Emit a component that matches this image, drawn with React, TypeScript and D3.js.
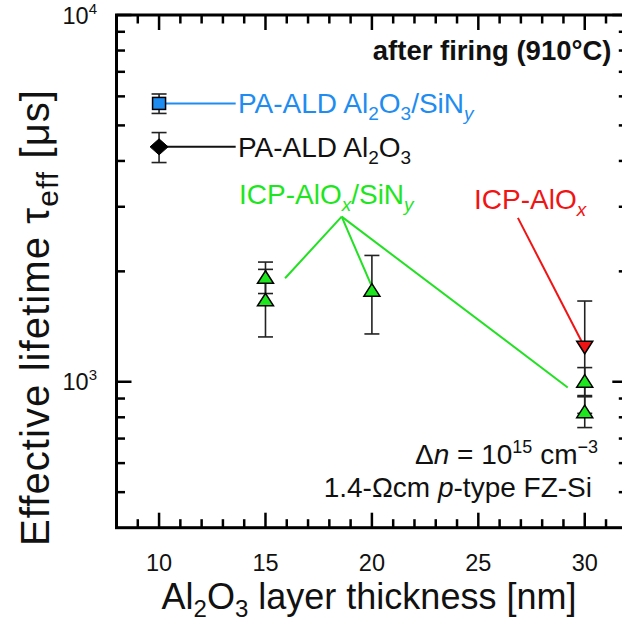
import React from 'react';
import * as d3 from 'd3';

// ---------- data ----------
const blueX = [10];
const blueY = [5740];
const blueErr = [350];

const blackX = [10];
const blackY = [4370];
const blackErr = [410];

const greenX = [15, 15, 20, 30, 30];
const greenY = [1930, 1675, 1780, 1005, 830];
const greenErr = [190, 350, 430, 88, 80];

const redX = [30];
const redY = [1240];
const redErr = [420];

const xMajorTicks = [10, 15, 20, 25, 30];
const xMinorTicks = [9, 11, 12, 13, 14, 16, 17, 18, 19, 21, 22, 23, 24, 26, 27, 28, 29, 31];
const yMajorTicks = [1000, 10000];
const yMinorTicks = [500, 600, 700, 800, 900, 2000, 3000, 4000, 5000, 6000, 7000, 8000, 9000];
const yTickExp = ['3', '4'];
const xTickLabels = ['10', '15', '20', '25', '30'];

// pointer lines (data space)
const greenHub = { x: 18.58, y: 2820 };
const greenEnds = [
  { x: 15.92, y: 1915 },
  { x: 20, y: 1816 },
  { x: 29.2, y: 965 },
];
const redStart = { x: 26.86, y: 2798 };
const blueLineEndX = 13.6;

// ---------- layout ----------
const W = 622;
const H = 621;
const FONT = '"Liberation Sans", Arial, Helvetica, sans-serif';
const GREEN = '#1ee61e';
const GREEN_LINE = '#22e022';
const BLUE = '#1e8cf0';
const RED = '#f01414';
const ERR = '#222';

const x = d3.scaleLinear().domain([8, 32]).range([116.5, 627.3]);
const y = d3.scaleLog().domain([400, 10000]).range([527.7, 15]);

const MAJ = 15;
const MIN = 8.5;

function ErrorBar({ cx, v, e }: { cx: number; v: number; e: number }) {
  const px = x(cx);
  const y1 = y(v + e);
  const y2 = y(v - e);
  return (
    <g stroke={ERR} strokeWidth={1.6}>
      <line x1={px} x2={px} y1={y1} y2={y2} />
      <line x1={px - 7.5} x2={px + 7.5} y1={y1} y2={y1} />
      <line x1={px - 7.5} x2={px + 7.5} y1={y2} y2={y2} />
    </g>
  );
}

function triUp(w: number, h: number) {
  return `M0,${-h / 2}L${w / 2},${h / 2}L${-w / 2},${h / 2}Z`;
}
function triDown(w: number, h: number) {
  return `M0,${h / 2}L${w / 2},${-h / 2}L${-w / 2},${-h / 2}Z`;
}
function diamond(w: number, h: number) {
  return `M0,${-h / 2}L${w / 2},0L0,${h / 2}L${-w / 2},0Z`;
}

export default function App() {
  const x0 = x(8);
  const x1 = x(32);
  const y0 = y(400);
  const y1 = y(10000);

  const line = d3
    .line<{ x: number; y: number }>()
    .x((d) => x(d.x))
    .y((d) => y(d.y));

  const LBL = 28;
  const subSize = 19;
  const subDy = 7;

  return (
    <svg
      width={W}
      height={H}
      style={{ position: 'absolute', left: 0, top: 0, background: '#fff' }}
      fontFamily={FONT}
    >
      <rect x={0} y={0} width={W} height={H} fill="#fff" />

      {/* ticks */}
      <g stroke="#000" strokeWidth={2.5}>
        {xMajorTicks.map((t) => (
          <g key={'xM' + t}>
            <line x1={x(t)} x2={x(t)} y1={y0} y2={y0 - MAJ} />
            <line x1={x(t)} x2={x(t)} y1={y1} y2={y1 + MAJ} />
          </g>
        ))}
        {xMinorTicks.map((t) => (
          <g key={'xm' + t}>
            <line x1={x(t)} x2={x(t)} y1={y0} y2={y0 - MIN} />
            <line x1={x(t)} x2={x(t)} y1={y1} y2={y1 + MIN} />
          </g>
        ))}
        {yMajorTicks.map((t) => (
          <g key={'yM' + t}>
            <line x1={x0} x2={x0 + MAJ} y1={y(t)} y2={y(t)} />
            <line x1={x1} x2={x1 - MAJ} y1={y(t)} y2={y(t)} />
          </g>
        ))}
        {yMinorTicks.map((t) => (
          <g key={'ym' + t}>
            <line x1={x0} x2={x0 + MIN} y1={y(t)} y2={y(t)} />
            <line x1={x1} x2={x1 - MIN} y1={y(t)} y2={y(t)} />
          </g>
        ))}
      </g>

      {/* frame */}
      <rect x={x0} y={y1} width={x1 - x0} height={y0 - y1} fill="none" stroke="#000" strokeWidth={3} />

      {/* x tick labels */}
      {xMajorTicks.map((t, i) => (
        <text key={'xl' + t} x={x(t)} y={570.5} fontSize={23.5} textAnchor="middle" fill="#111">
          {xTickLabels[i]}
        </text>
      ))}
      {/* y tick labels */}
      {yMajorTicks.map((t, i) => (
        <text key={'yl' + t} x={97} y={y(t) + 8.5} fontSize={23.5} textAnchor="end" fill="#111">
          10
          <tspan fontSize={15} dy={-10}>
            {yTickExp[i]}
          </tspan>
        </text>
      ))}

      {/* axis titles */}
      <text x={369} y={608.5} fontSize={36} textAnchor="middle" fill="#111">
        Al
        <tspan fontSize={24} dy={8}>2</tspan>
        <tspan dy={-8}>O</tspan>
        <tspan fontSize={24} dy={8}>3</tspan>
        <tspan dy={-8}> layer thickness [nm]</tspan>
      </text>
      <text
        transform={`translate(49,546) rotate(-90)`}
        fontSize={40}
        textAnchor="start"
        fill="#111"
        textLength={456}
        lengthAdjust="spacing"
      >
        Effective lifetime τ
        <tspan fontSize={30} dy={9}>eff</tspan>
        <tspan dy={-9}> [μs]</tspan>
      </text>

      {/* pointer lines */}
      <line x1={x(blueX[0])} x2={x(blueLineEndX)} y1={y(blueY[0])} y2={y(blueY[0])} stroke={BLUE} strokeWidth={2} />
      <line x1={x(blackX[0])} x2={x(blueLineEndX)} y1={y(blackY[0])} y2={y(blackY[0])} stroke="#111" strokeWidth={2} />
      {greenEnds.map((e, i) => (
        <path key={'gl' + i} d={line([greenHub, e]) as string} stroke={GREEN_LINE} strokeWidth={2} fill="none" />
      ))}
      <path d={line([redStart, { x: redX[0], y: redY[0] }]) as string} stroke={RED} strokeWidth={2} fill="none" />

      {/* error bars */}
      {blueX.map((v, i) => <ErrorBar key={'be' + i} cx={v} v={blueY[i]} e={blueErr[i]} />)}
      {blackX.map((v, i) => <ErrorBar key={'ke' + i} cx={v} v={blackY[i]} e={blackErr[i]} />)}
      {redX.map((v, i) => <ErrorBar key={'re' + i} cx={v} v={redY[i]} e={redErr[i]} />)}
      {greenX.map((v, i) => <ErrorBar key={'ge' + i} cx={v} v={greenY[i]} e={greenErr[i]} />)}

      {/* markers */}
      {blueX.map((v, i) => (
        <rect key={'bm' + i} x={x(v) - 6.5} y={y(blueY[i]) - 6} width={13} height={12} fill={BLUE} stroke="#000" strokeWidth={1.5} />
      ))}
      {blackX.map((v, i) => (
        <path key={'km' + i} transform={`translate(${x(v)},${y(blackY[i])})`} d={diamond(18, 16)} fill="#000" stroke="#000" strokeWidth={1} />
      ))}
      {redX.map((v, i) => (
        <path key={'rm' + i} transform={`translate(${x(v)},${y(redY[i])})`} d={triDown(16, 12.5)} fill={RED} stroke="#000" strokeWidth={1.5} />
      ))}
      {greenX.map((v, i) => (
        <path key={'gm' + i} transform={`translate(${x(v)},${y(greenY[i])})`} d={triUp(16, 12.5)} fill={GREEN} stroke="#000" strokeWidth={1.5} />
      ))}

      {/* labels */}
      <text x={238} y={y(blueY[0]) + 10} fontSize={LBL} fill={BLUE}>
        PA-ALD Al
        <tspan fontSize={subSize} dy={subDy}>2</tspan>
        <tspan dy={-subDy}>O</tspan>
        <tspan fontSize={subSize} dy={subDy}>3</tspan>
        <tspan dy={-subDy}>/SiN</tspan>
        <tspan fontSize={subSize} dy={subDy} fontStyle="italic">y</tspan>
      </text>
      <text x={238} y={y(blackY[0]) + 10} fontSize={LBL} fill="#111">
        PA-ALD Al
        <tspan fontSize={subSize} dy={subDy}>2</tspan>
        <tspan dy={-subDy}>O</tspan>
        <tspan fontSize={subSize} dy={subDy}>3</tspan>
      </text>
      <text x={239} y={204} fontSize={LBL} fill={GREEN}>
        ICP-AlO
        <tspan fontSize={subSize} dy={subDy} fontStyle="italic">x</tspan>
        <tspan dy={-subDy}>/SiN</tspan>
        <tspan fontSize={subSize} dy={subDy} fontStyle="italic">y</tspan>
      </text>
      <text x={474} y={209} fontSize={LBL} fill={RED}>
        ICP-AlO
        <tspan fontSize={subSize} dy={subDy} fontStyle="italic">x</tspan>
      </text>

      <text x={611.5} y={60} fontSize={27.5} fontWeight="bold" textAnchor="end" fill="#111">
        after firing (910°C)
      </text>

      <text x={598} y={464} fontSize={28} textAnchor="end" fill="#111">
        Δ<tspan fontStyle="italic">n</tspan> = 10
        <tspan fontSize={18} dy={-11}>15</tspan>
        <tspan dy={11}> cm</tspan>
        <tspan fontSize={18} dy={-11}>−3</tspan>
      </text>
      <text x={592} y={497} fontSize={28} textAnchor="end" fill="#111">
        1.4-Ωcm <tspan fontStyle="italic">p</tspan>-type FZ-Si
      </text>
    </svg>
  );
}
